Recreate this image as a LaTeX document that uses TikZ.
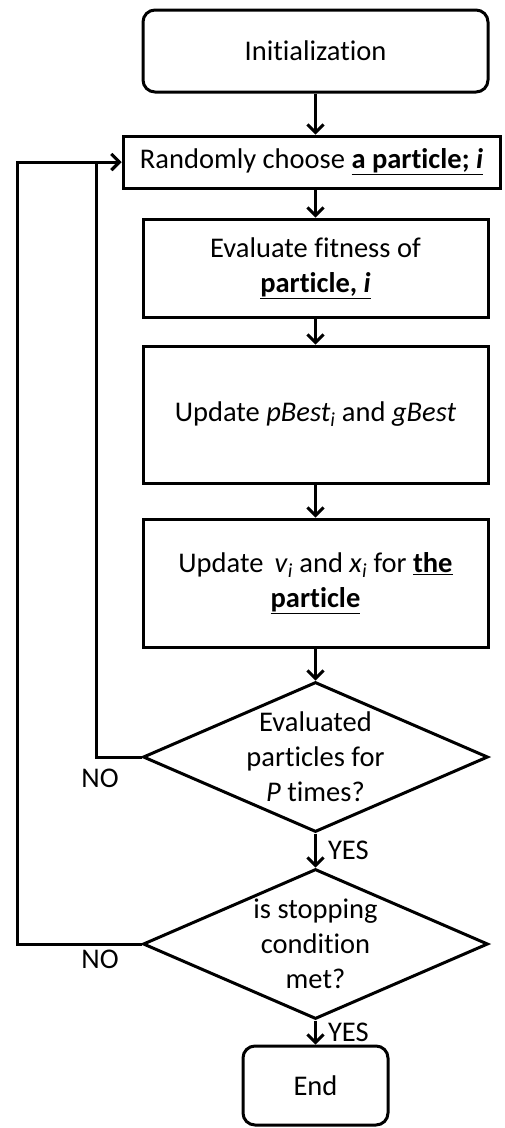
\documentclass[tikz,border=0pt]{standalone}
\usepackage{fontspec}
\setmainfont{Carlito}[Ligatures=NoCommon]
\usetikzlibrary{shapes.geometric,arrows.meta}

\tikzset{
  line/.style={line width=3pt, draw=black},
  arr/.style={line, -{Straight Barb[length=8pt,width=16pt]}, line join=miter},
  procbox/.style={line, rectangle, inner sep=0pt, align=center},
  termbox/.style={procbox, rounded corners=12pt},
  decbox/.style={line, diamond, inner sep=0pt, minimum width=345pt, minimum height=150pt},
  txt/.style={align=center, inner sep=0pt},
  lbl/.style={inner sep=0pt},
}

\begin{document}
\begin{tikzpicture}[x=1pt,y=-1pt, font=\fontsize{28.5}{35}\selectfont]
\useasboundingbox (0,0) rectangle (504,1128);

% process steps
\node[termbox, minimum width=345pt, minimum height=82pt] (init) at (315.5,51) {Initialization};
\node[procbox, minimum width=377pt, minimum height=52pt] (rand) at (311.5,162)
  {Randomly choose \underline{\textbf{a particle; \textit{i}}}};
\node[procbox, minimum width=345pt, minimum height=98pt] (eval) at (315.5,268)
  {Evaluate fitness of\\\underline{\textbf{particle, \textit{i}}}};
\node[procbox, minimum width=345pt, minimum height=137pt] (best) at (315.5,414.5)
  {Update \textit{pBest}\textsubscript{\textit{i}} and \textit{gBest}};
\node[procbox, minimum width=345pt, minimum height=128pt] (move) at (315.5,583)
  {Update\, \textit{v}\textsubscript{\textit{i}} and \textit{x}\textsubscript{\textit{i}} for \underline{\textbf{the}}\\\underline{\textbf{particle}}};

% decisions
\node[decbox] (d1) at (315.5,757) {};
\node[txt] (d1t) at (d1.center) {Evaluated\\particles for\\\textit{P} times?};
\node[decbox] (d2) at (315.5,944) {};
\node[txt] (d2t) at (d2.center) {is stopping\\condition\\met?};

\node[termbox, minimum width=145pt, minimum height=79pt] (end) at (315.5,1085.5) {End};

% return paths
\coordinate (in1) at (96,0);
\coordinate (in2) at (17,0);

% main flow
\draw[arr] (init.south) -- (init.south |- rand.north);
\draw[arr] (rand.south -| init.south) -- (eval.north);
\draw[arr] (eval) -- (best);
\draw[arr] (best) -- (move);
\draw[arr] (move) -- (d1);
\draw[arr] (d1) -- node[lbl, anchor=west, xshift=11pt] (yes1) {YES} (d2);
\draw[arr] (d2) -- node[lbl, anchor=west, xshift=11pt] (yes2) {YES} (end);

% loops
\draw[arr] (d1.west) -- (d1.west -| in1) |- (rand.west);
\draw[arr] (d2.west) -- (d2.west -| in2) |- (rand.west);

\node[lbl] (no1) at (100,778) {NO};
\node[lbl] (no2) at (100,959) {NO};
\end{tikzpicture}
\end{document}
